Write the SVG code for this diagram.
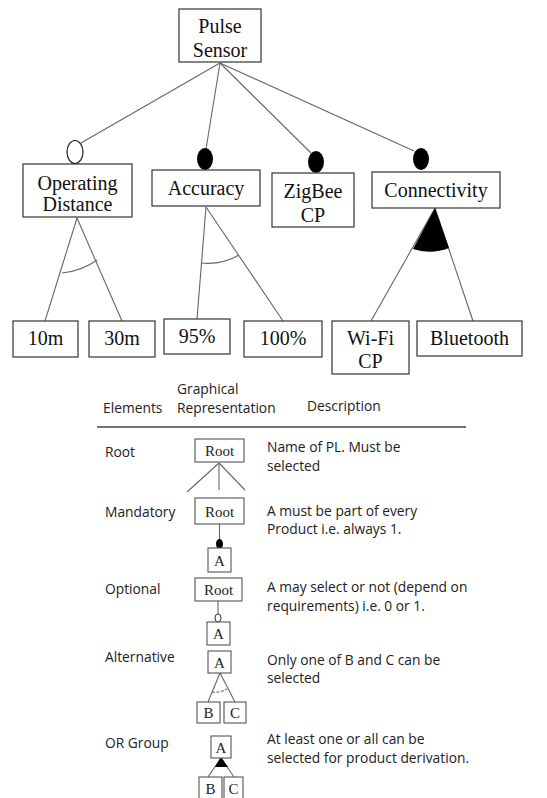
<svg xmlns="http://www.w3.org/2000/svg" width="547" height="798" viewBox="0 0 547 798">
  <style>
    .box { fill: #fff; stroke: #333; stroke-width: 1.2; }
    .sbox { fill: #fff; stroke: #555; stroke-width: 1.1; }
    .edge { fill: none; stroke: #666; stroke-width: 1.1; }
    .ft { font-family: "Liberation Serif", "Times New Roman", serif; font-size: 20px; fill: #111; text-anchor: middle; }
    .st { font-family: "Liberation Serif", "Times New Roman", serif; font-size: 15px; fill: #222; text-anchor: middle; }
    .lt { font-family: "Open Sans", "Noto Sans", sans-serif; font-size: 13.8px; fill: #222; }
  </style>

  <!-- feature-model connectors -->
  <g id="connectors">
    <line class="edge" x1="220" y1="63" x2="81" y2="143"/>
    <line class="edge" x1="220" y1="63" x2="206" y2="149"/>
    <line class="edge" x1="220" y1="63" x2="311" y2="153"/>
    <line class="edge" x1="220" y1="63" x2="414" y2="151"/>
    <!-- Operating Distance alternative group -->
    <line class="edge" x1="77" y1="218" x2="45" y2="321"/>
    <line class="edge" x1="77" y1="218" x2="122" y2="321"/>
    <path class="edge" d="M62,273 Q82,271 97,260"/>
    <!-- Accuracy alternative group -->
    <line class="edge" x1="206" y1="207" x2="197" y2="319"/>
    <line class="edge" x1="206" y1="207" x2="283" y2="321"/>
    <path class="edge" d="M201,263 Q222,265 239,255"/>
    <!-- Connectivity OR group -->
    <line class="edge" x1="435" y1="208" x2="371" y2="321"/>
    <line class="edge" x1="435" y1="208" x2="473" y2="321"/>
    <path d="M435,208 L413,249 Q431,255 449,248 Z" fill="#000"/>
  </g>

  <!-- variability markers -->
  <ellipse cx="75" cy="152" rx="8" ry="11.5" fill="#fff" stroke="#222" stroke-width="1.2"/>
  <ellipse cx="205" cy="159" rx="8" ry="11" fill="#000"/>
  <ellipse cx="316" cy="162" rx="8" ry="11" fill="#000"/>
  <ellipse cx="421" cy="159" rx="8" ry="11" fill="#000"/>

  <g id="pulse-sensor">
    <rect class="box" x="179" y="9" width="82" height="53"/>
    <text class="ft" x="220" y="33">Pulse</text>
    <text class="ft" x="220" y="57">Sensor</text>
  </g>
  <g id="operating-distance">
    <rect class="box" x="23" y="164" width="109" height="53"/>
    <text class="ft" x="77.5" y="190">Operating</text>
    <text class="ft" x="77.5" y="211">Distance</text>
  </g>
  <g id="accuracy">
    <rect class="box" x="152" y="170" width="108" height="36"/>
    <text class="ft" x="206" y="195">Accuracy</text>
  </g>
  <g id="zigbee-cp">
    <rect class="box" x="272" y="173" width="82" height="54"/>
    <text class="ft" x="313" y="198">ZigBee</text>
    <text class="ft" x="313" y="222">CP</text>
  </g>
  <g id="connectivity">
    <rect class="box" x="372" y="172" width="128" height="36"/>
    <text class="ft" x="436" y="197">Connectivity</text>
  </g>
  <g id="d10m">
    <rect class="box" x="13" y="321" width="65" height="36"/>
    <text class="ft" x="45.5" y="345">10m</text>
  </g>
  <g id="d30m">
    <rect class="box" x="89" y="321" width="66" height="36"/>
    <text class="ft" x="122" y="345">30m</text>
  </g>
  <g id="acc95">
    <rect class="box" x="164" y="319" width="66" height="35"/>
    <text class="ft" x="197" y="343">95%</text>
  </g>
  <g id="acc100">
    <rect class="box" x="244" y="321" width="78" height="36"/>
    <text class="ft" x="283" y="345">100%</text>
  </g>
  <g id="wifi-cp">
    <rect class="box" x="332" y="321" width="77" height="53"/>
    <text class="ft" x="370.5" y="345">Wi-Fi</text>
    <text class="ft" x="370.5" y="368">CP</text>
  </g>
  <g id="bluetooth">
    <rect class="box" x="417" y="321" width="105" height="35"/>
    <text class="ft" x="469.5" y="345">Bluetooth</text>
  </g>

  <!-- notation legend -->
  <g id="legend-header">
    <text class="lt" x="177" y="394">Graphical</text>
    <text class="lt" x="103" y="413">Elements</text>
    <text class="lt" x="177" y="413">Representation</text>
    <text class="lt" x="307" y="411">Description</text>
    <line x1="97" y1="427" x2="466" y2="427" stroke="#444" stroke-width="1.5"/>
  </g>

  <g id="legend-root">
    <text class="lt" x="105" y="457">Root</text>
    <line class="edge" x1="219" y1="463" x2="187" y2="492"/>
    <line class="edge" x1="219" y1="463" x2="219" y2="490"/>
    <line class="edge" x1="219" y1="463" x2="245" y2="490"/>
    <rect class="sbox" x="195" y="439" width="49" height="23"/>
    <text class="st" x="219.5" y="456">Root</text>
    <text class="lt" x="267" y="452">Name of PL. Must be</text>
    <text class="lt" x="267" y="471">selected</text>
  </g>

  <g id="legend-mandatory">
    <text class="lt" x="105" y="517">Mandatory</text>
    <line class="edge" x1="219.5" y1="524" x2="219.5" y2="542"/>
    <ellipse cx="219.5" cy="544" rx="3.5" ry="5" fill="#000"/>
    <rect class="sbox" x="195" y="498" width="49" height="26"/>
    <text class="st" x="219.5" y="517">Root</text>
    <rect class="sbox" x="208" y="548" width="23" height="24"/>
    <text class="st" x="219.5" y="566">A</text>
    <text class="lt" x="267" y="516">A must be part of every</text>
    <text class="lt" x="267" y="534">Product i.e. always 1.</text>
  </g>

  <g id="legend-optional">
    <text class="lt" x="105" y="594">Optional</text>
    <line class="edge" x1="218" y1="601" x2="218" y2="614"/>
    <ellipse cx="218" cy="618" rx="3" ry="4" fill="#fff" stroke="#333" stroke-width="1"/>
    <rect class="sbox" x="195" y="578" width="47" height="23"/>
    <text class="st" x="218.5" y="595">Root</text>
    <rect class="sbox" x="207" y="622" width="23" height="23"/>
    <text class="st" x="218.5" y="639">A</text>
    <text class="lt" x="267" y="592">A may select or not (depend on</text>
    <text class="lt" x="267" y="611">requirements) i.e. 0 or 1.</text>
  </g>

  <g id="legend-alternative">
    <text class="lt" x="105" y="662">Alternative</text>
    <line class="edge" x1="220" y1="673" x2="208" y2="702"/>
    <line class="edge" x1="220" y1="673" x2="235" y2="702"/>
    <path class="edge" d="M212,692 Q220,693 227,689" stroke-dasharray="3,1.5"/>
    <rect class="sbox" x="208" y="651" width="23" height="22"/>
    <text class="st" x="219.5" y="668">A</text>
    <rect class="sbox" x="197" y="702" width="23" height="21"/>
    <text class="st" x="208.5" y="718">B</text>
    <rect class="sbox" x="224" y="702" width="22" height="21"/>
    <text class="st" x="235" y="718">C</text>
    <text class="lt" x="267" y="665">Only one of B and C can be</text>
    <text class="lt" x="267" y="683">selected</text>
  </g>

  <g id="legend-or-group">
    <text class="lt" x="105" y="748">OR Group</text>
    <line class="edge" x1="221" y1="758" x2="208" y2="777"/>
    <line class="edge" x1="221" y1="758" x2="234" y2="777"/>
    <path d="M221,757 L215,767 L228,767 Z" fill="#000"/>
    <rect class="sbox" x="211" y="736" width="20" height="22"/>
    <text class="st" x="221" y="753">A</text>
    <rect class="sbox" x="199" y="777" width="23" height="24"/>
    <text class="st" x="210.5" y="794">B</text>
    <rect class="sbox" x="224" y="777" width="19" height="24"/>
    <text class="st" x="233.5" y="794">C</text>
    <text class="lt" x="267" y="744">At least one or all can be</text>
    <text class="lt" x="267" y="763">selected for product derivation.</text>
  </g>
</svg>
